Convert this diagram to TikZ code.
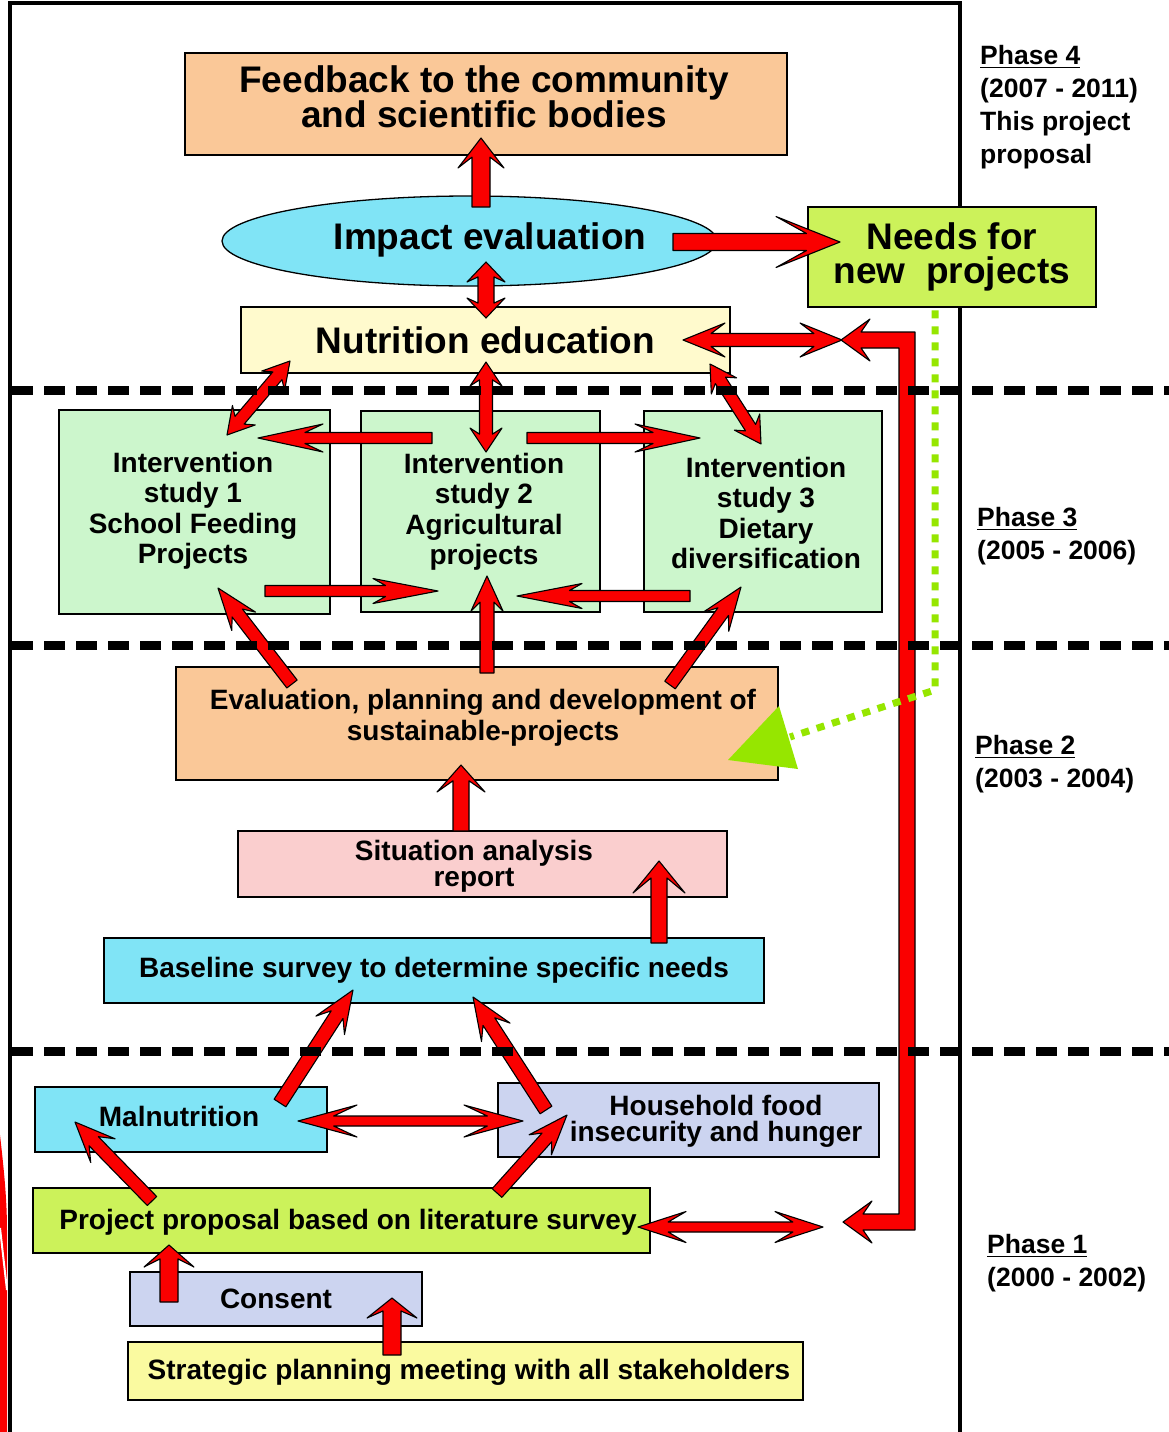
\documentclass[tikz,border=0pt]{standalone}
\usepackage{fontspec}
\setmainfont{Liberation Sans}
\usetikzlibrary{calc,shapes.geometric}
\definecolor{peach}{RGB}{250,200,152}
\definecolor{cyanb}{RGB}{128,228,246}
\definecolor{cream}{RGB}{255,250,205}
\definecolor{lime}{RGB}{204,242,90}
\definecolor{mint}{RGB}{204,246,204}
\definecolor{pinkb}{RGB}{250,206,206}
\definecolor{lav}{RGB}{204,212,240}
\definecolor{yel}{RGB}{250,250,160}
\definecolor{arrred}{RGB}{250,0,0}
\definecolor{dotgreen}{RGB}{150,230,0}
% single-headed block arrow: tail, tip, half shaft, head length, half head width
\newcommand\sarr[5]{%
  \pgfmathsetmacro\dd{min(0.85*#4,(4.5*veclen(#4,#5)+#3*#4)/#5)}%
  \filldraw[barrow] (#2) -- ($(#2)!#4pt!(#1)!#5pt!90:(#1)$) -- ($(#2)!\dd pt!(#1)!#3pt!90:(#1)$)
    -- ($(#1)!#3pt!-90:(#2)$) -- ($(#1)!#3pt!90:(#2)$)
    -- ($(#2)!\dd pt!(#1)!#3pt!-90:(#1)$) -- ($(#2)!#4pt!(#1)!#5pt!-90:(#1)$) -- cycle;}
% double-headed block arrow: tipA, tipB, half shaft, head length, half head width
\newcommand\darr[5]{%
  \pgfmathsetmacro\dd{min(0.85*#4,(4.5*veclen(#4,#5)+#3*#4)/#5)}%
  \filldraw[barrow] (#2) -- ($(#2)!#4pt!(#1)!#5pt!90:(#1)$) -- ($(#2)!\dd pt!(#1)!#3pt!90:(#1)$)
    -- ($(#1)!\dd pt!(#2)!#3pt!-90:(#2)$) -- ($(#1)!#4pt!(#2)!#5pt!-90:(#2)$) -- (#1)
    -- ($(#1)!#4pt!(#2)!#5pt!90:(#2)$) -- ($(#1)!\dd pt!(#2)!#3pt!90:(#2)$)
    -- ($(#2)!\dd pt!(#1)!#3pt!-90:(#1)$) -- ($(#2)!#4pt!(#1)!#5pt!-90:(#1)$) -- cycle;}
\newcommand\phu[1]{\setbox0\hbox{#1}\rlap{\rule[-4pt]{\wd0}{1.8pt}}\box0}
\begin{document}
\begin{tikzpicture}[x=1pt,y=1pt,
  box/.style={draw=black, line width=2.6pt, inner sep=0pt, align=center, text=black},
  fbig/.style={font=\fontsize{37}{34}\selectfont\bfseries, align=center},
  fmid/.style={font=\fontsize{28}{30.5}\selectfont\bfseries, align=center},
  fev/.style={font=\fontsize{28}{31}\selectfont\bfseries, align=center},
  ftight/.style={font=\fontsize{28}{26}\selectfont\bfseries, align=center},
  phlabel/.style={font=\fontsize{26.5}{33}\selectfont\bfseries, align=left, inner sep=0pt, anchor=north west},
  barrow/.style={fill=arrred, draw=black, line width=1.1pt, line join=round},
  phaseline/.style={line width=9pt, dash pattern=on 21pt off 11pt},
  greendot/.style={draw=dotgreen, line width=7pt, dash pattern=on 8pt off 8pt}
]
\useasboundingbox (0,0) rectangle (1169,-1432);
\fill[white] (0,0) rectangle (1169,-1432);
% left edge red fragment
\fill[arrred] (0,-1135) .. controls (4,-1170) and (7,-1200) .. (7,-1230) -- (7,-1432) -- (0,-1432) -- cycle;
\draw[white, line width=2pt] (0,-1228) -- (7,-1290);
% frame
\draw[line width=3.2pt] (10,-1432) -- (10,-3) -- (960,-3) -- (960,-1432);

% boxes
\node[box, fill=peach, minimum width=602pt, minimum height=102pt] (fb) at (486,-104) {};
\node[fbig] (fbt) at (484,-97) {Feedback to the community\\and scientific bodies};
\node[draw=black, ellipse, fill=cyanb, line width=1.3pt, minimum width=495pt, minimum height=90pt, inner sep=0pt] (ie) at (469.5,-241) {};
\node[fbig] (iet) at (490,-240) {Impact evaluation};
\node[box, fill=cream, minimum width=489pt, minimum height=66pt, fbig] (ne) at (485.5,-340) {Nutrition education};
\node[box, fill=lime, minimum width=288pt, minimum height=100pt, fbig] (nd) at (952,-257) {Needs for\\new\ \ projects};
\node[box, fill=mint, minimum width=271pt, minimum height=204pt] (is1) at (194.5,-512) {};
\node[fmid] (is1t) at (193,-511) {Intervention\\study 1\\School Feeding\\Projects};
\node[box, fill=mint, minimum width=239pt, minimum height=201pt] (is2) at (480.5,-511.5) {};
\node[fmid] (is2t) at (484,-512) {Intervention\\study 2\\Agricultural\\projects};
\node[box, fill=mint, minimum width=238pt, minimum height=201pt] (is3) at (763,-511.5) {};
\node[fmid] (is3t) at (766,-513) {Intervention\\study 3\\Dietary\\diversification};
\node[box, fill=peach, minimum width=602pt, minimum height=113pt] (ev) at (477,-723.5) {};
\node[fev] (evt) at (483,-718) {Evaluation, planning and development of\\sustainable-projects};
\node[box, fill=pinkb, minimum width=489pt, minimum height=66pt] (sa) at (482.5,-864) {};
\node[ftight] (sat) at (474,-866) {Situation analysis\\report};
\node[box, fill=cyanb, minimum width=660pt, minimum height=65pt, fmid] (bs) at (434,-970.5) {Baseline survey to determine specific needs};
\node[box, fill=cyanb, minimum width=292pt, minimum height=65pt] (ma) at (181,-1119.5) {};
\node[fmid] (mat) at (179,-1116) {Malnutrition};
\node[box, fill=lav, minimum width=381pt, minimum height=74pt] (hh) at (688.5,-1120) {};
\node[ftight] (hht) at (716,-1121) {Household food\\insecurity and hunger};
\node[box, fill=lime, minimum width=617pt, minimum height=65pt] (pp) at (341.5,-1220.5) {};
\node[fmid] (ppt) at (348,-1222) {Project proposal based on literature survey};
\node[box, fill=lav, minimum width=292pt, minimum height=54pt, fmid] (co) at (276,-1299) {Consent};
\node[box, fill=yel, minimum width=675pt, minimum height=58pt] (sp) at (465.5,-1371) {};
\node[fmid] (spt) at (469,-1372) {Strategic planning meeting with all stakeholders};

% arrow end points
\coordinate (a1t) at (481,-207);  \coordinate (a1h) at (481,-138);
\coordinate (a2t) at (673,-242);  \coordinate (a2h) at (840,-242);
\coordinate (a3a) at (486,-262);  \coordinate (a3b) at (486,-318);
\coordinate (a4a) at (683,-340);  \coordinate (a4b) at (842,-340);
\coordinate (a6a) at (290,-361);  \coordinate (a6b) at (227,-435);
\coordinate (a7a) at (486,-362);  \coordinate (a7b) at (486,-452);
\coordinate (a8a) at (710,-364);  \coordinate (a8b) at (761,-444);
\coordinate (a9t) at (432,-438);  \coordinate (a9h) at (258,-438);
\coordinate (a10t) at (527,-438); \coordinate (a10h) at (700,-438);
\coordinate (a11t) at (265,-591); \coordinate (a11h) at (438,-591);
\coordinate (a12t) at (690,-596); \coordinate (a12h) at (517,-596);
\coordinate (a13t) at (292,-684); \coordinate (a13h) at (218,-588);
\coordinate (a14t) at (487,-673); \coordinate (a14h) at (487,-576);
\coordinate (a15t) at (670,-685); \coordinate (a15h) at (741,-587);
\coordinate (a16t) at (461,-831); \coordinate (a16h) at (461,-765);
\coordinate (a17t) at (659,-943); \coordinate (a17h) at (659,-861);
\coordinate (a18t) at (280,-1103); \coordinate (a18h) at (353,-990);
\coordinate (a19t) at (546,-1110); \coordinate (a19h) at (473,-997);
\coordinate (a20a) at (298,-1121); \coordinate (a20b) at (523,-1121);
\coordinate (a21t) at (152,-1201); \coordinate (a21h) at (75,-1122);
\coordinate (a22t) at (497,-1193); \coordinate (a22h) at (567,-1115);
\coordinate (a23a) at (638,-1227); \coordinate (a23b) at (823,-1227);
\coordinate (a24t) at (169,-1302); \coordinate (a24h) at (169,-1245);
\coordinate (a25t) at (392,-1355); \coordinate (a25h) at (392,-1298);
\coordinate (elb1) at (843,-1222); \coordinate (elb2) at (841,-340);

% arrows
\sarr{a1t}{a1h}{9}{30}{23}
\sarr{a2t}{a2h}{8.5}{64}{25.5}
\darr{a3a}{a3b}{8}{20}{19}
\darr{a4a}{a4b}{6.5}{42}{17}
\filldraw[barrow] (elb1) -- ($(elb1)+(29,-21)$) -- ($(elb1)+(20,-8)$) -- ($(elb1)+(72,-8)$)
  -- ($(elb2)+(74,8)$) -- ($(elb2)+(20,8)$) -- ($(elb2)+(29,21)$) -- (elb2)
  -- ($(elb2)+(29,-21)$) -- ($(elb2)+(20,-8)$) -- ($(elb2)+(58,-8)$)
  -- ($(elb1)+(56,8)$) -- ($(elb1)+(20,8)$) -- ($(elb1)+(29,21)$) -- cycle;
\darr{a6a}{a6b}{6}{26}{15}
\darr{a7a}{a7b}{6.5}{24}{16}
\darr{a8a}{a8b}{6}{26}{15}
\sarr{a9t}{a9h}{5.5}{65}{14}
\sarr{a10t}{a10h}{5.5}{65}{14}
\sarr{a11t}{a11h}{5.5}{65}{12.5}
\sarr{a12t}{a12h}{5.5}{65}{12.5}
\sarr{a13t}{a13h}{6.5}{42}{15}
\sarr{a14t}{a14h}{7}{35}{16}
\sarr{a15t}{a15h}{6.5}{43}{16}
\sarr{a16t}{a16h}{8}{27}{24}
\sarr{a17t}{a17h}{8}{32}{26}
\sarr{a18t}{a18h}{7}{42}{17}
\sarr{a19t}{a19h}{7}{42}{17}
\darr{a20a}{a20b}{5}{59}{16}
\sarr{a21t}{a21h}{6.5}{40}{17}
\sarr{a22t}{a22h}{6.5}{40}{15}
\darr{a23a}{a23b}{5}{48}{15.5}
\sarr{a24t}{a24h}{9}{22}{25}
\sarr{a25t}{a25h}{9}{20}{25}

% phase separators
\draw[phaseline] (12,-390) -- (1169,-390);
\draw[phaseline] (12,-645) -- (1169,-645);
\draw[phaseline] (12,-1051) -- (1169,-1051);

% green dotted feedback
\coordinate (g0) at ($(nd.south)+(-17,-2)$);
\coordinate (g1) at (935,-690);
\coordinate (g2) at (790,-737);
\coordinate (gtip) at (728,-760);
\draw[greendot] (g0) -- (g1) -- (g2);
\fill[dotgreen] (gtip) -- (779,-706) -- (798,-769) -- cycle;

% phase labels
\node[phlabel] (p4) at (980,-45) {\phu{Phase 4}\\(2007 - 2011)\\This project\\proposal};
\node[phlabel] (p3) at (977,-507) {\phu{Phase 3}\\(2005 - 2006)};
\node[phlabel] (p2) at (975,-735) {\phu{Phase 2}\\(2003 - 2004)};
\node[phlabel] (p1) at (987,-1234) {\phu{Phase 1}\\(2000 - 2002)};
\end{tikzpicture}
\end{document}
